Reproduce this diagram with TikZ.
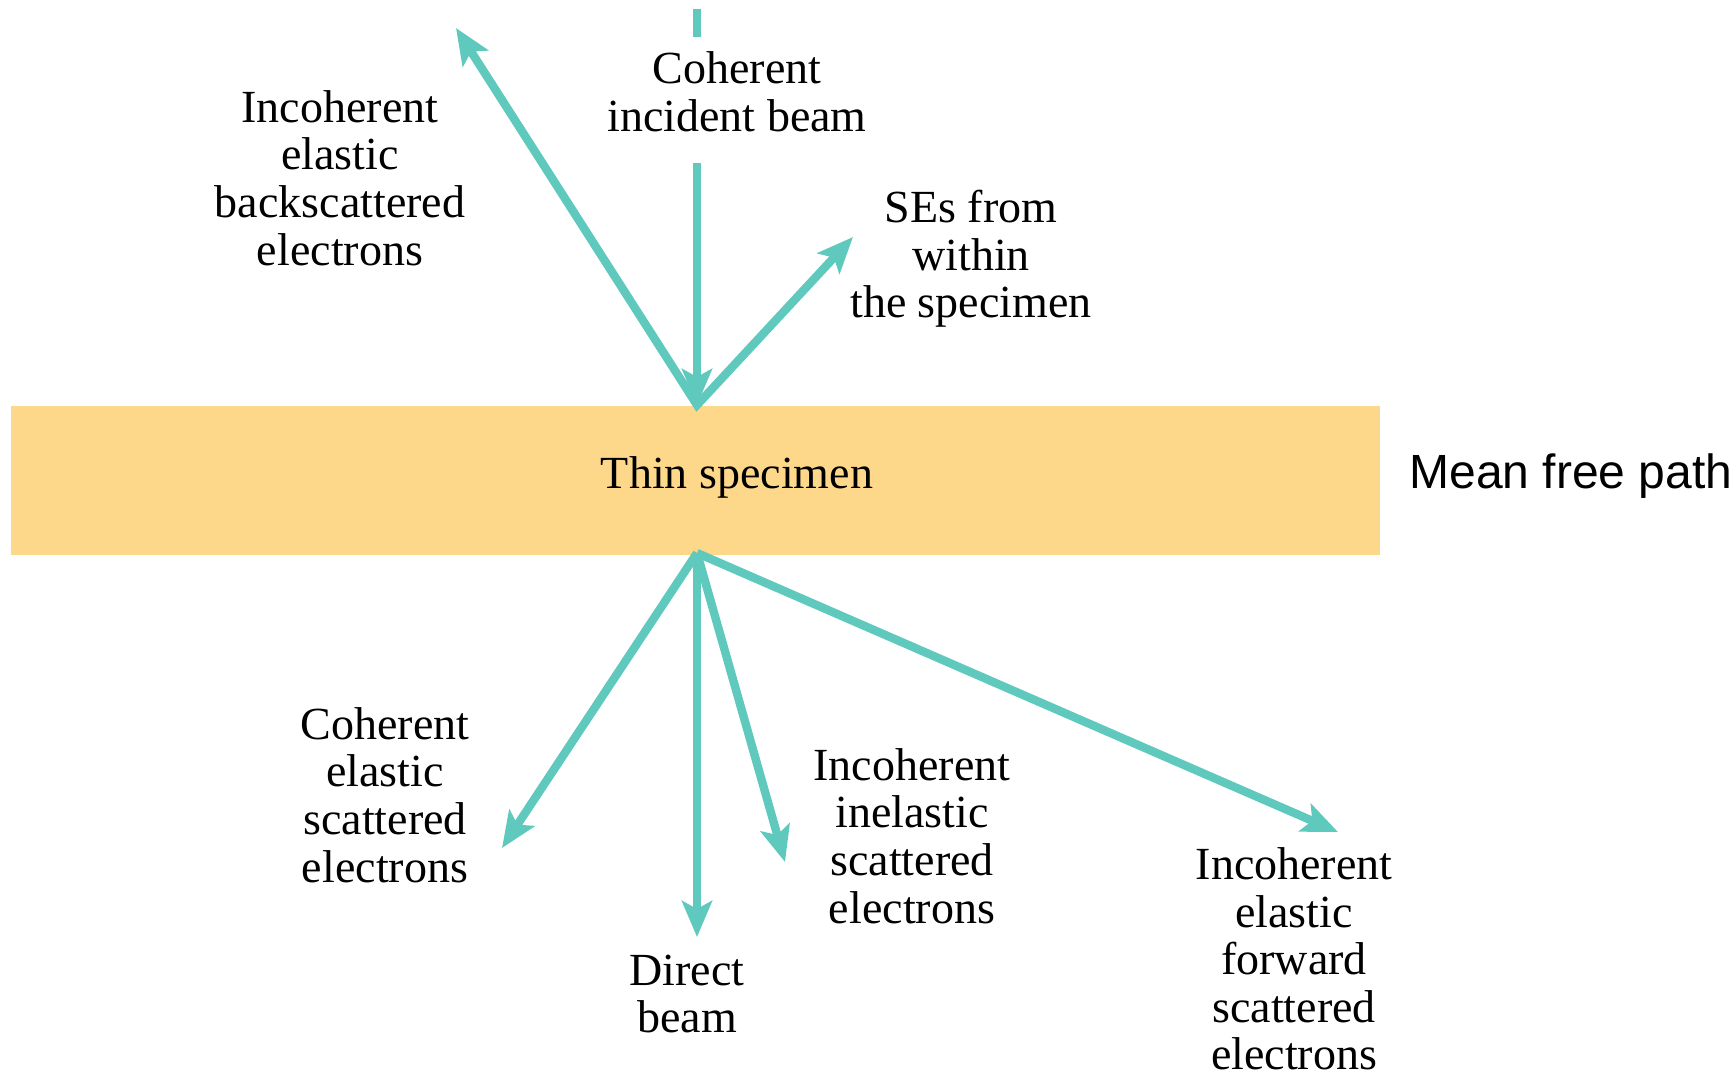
\documentclass[tikz,border=0pt]{standalone}
\usepackage{fontspec}
\setmainfont{Liberation Serif}
\setsansfont{Liberation Sans}
\usetikzlibrary{arrows.meta,positioning}

\definecolor{beam}{RGB}{96,201,190}
\definecolor{slab}{RGB}{254,216,138}

\begin{document}
\begin{tikzpicture}[x=0.5pt,y=-0.5pt,>={Stealth[length=18pt,width=15pt,inset=4pt]},
  ray/.style={draw=beam,line width=4.2pt,line join=miter},
  lbl/.style={align=center,inner sep=0pt,font=\fontsize{23}{23.8}\selectfont},
  side lbl/.style={inner sep=0pt,font=\sffamily\fontsize{24}{28}\selectfont}]

  \useasboundingbox (0,0) rectangle (1734,1078);

  % specimen slab
  \fill[slab] (11,406) rectangle (1380,555);
  \node[lbl] (thin) at (737,477) {Thin specimen};
  \node[side lbl] (mfp) at (1571,476) {Mean free path};

  % entry and exit points
  \coordinate (top) at (697,405);
  \coordinate (bot) at (697,553);

  % incident side
  \coordinate (inA) at (697,9);
  \coordinate (inB) at (697,37);
  \coordinate (inC) at (697,163);
  \coordinate (bs) at (456,28);
  \coordinate (se) at (853,237);
  \node[lbl] (inc) at (737,92) {Coherent\\incident beam};
  \node[lbl] (back) at (340,178) {Incoherent\\elastic\\backscattered\\electrons};
  \node[lbl] (sec) at (971,259) {SEs from\\within\\the specimen};

  \draw[ray] (inA) -- (inB);
  \draw[ray,->] (inC) -- (top);
  \draw[ray,<->] (bs) -- (top) -- (se);

  % transmitted side
  \coordinate (coh) at (502,848);
  \coordinate (dir) at (697,937);
  \coordinate (inel) at (785,862);
  \coordinate (fwd) at (1338,832);
  \node[lbl] (cohl) at (385,795) {Coherent\\elastic\\scattered\\electrons};
  \node[lbl] (dirl) at (687,994) {Direct\\beam};
  \node[lbl] (inell) at (912,836) {Incoherent\\inelastic\\scattered\\electrons};
  \node[lbl] (fwdl) at (1294,959) {Incoherent\\elastic\\forward\\scattered\\electrons};

  \draw[ray,->] (bot) -- (coh);
  \draw[ray,->] (bot) -- (dir);
  \draw[ray,->] (bot) -- (inel);
  \draw[ray,->] (bot) -- (fwd);

\end{tikzpicture}
\end{document}
